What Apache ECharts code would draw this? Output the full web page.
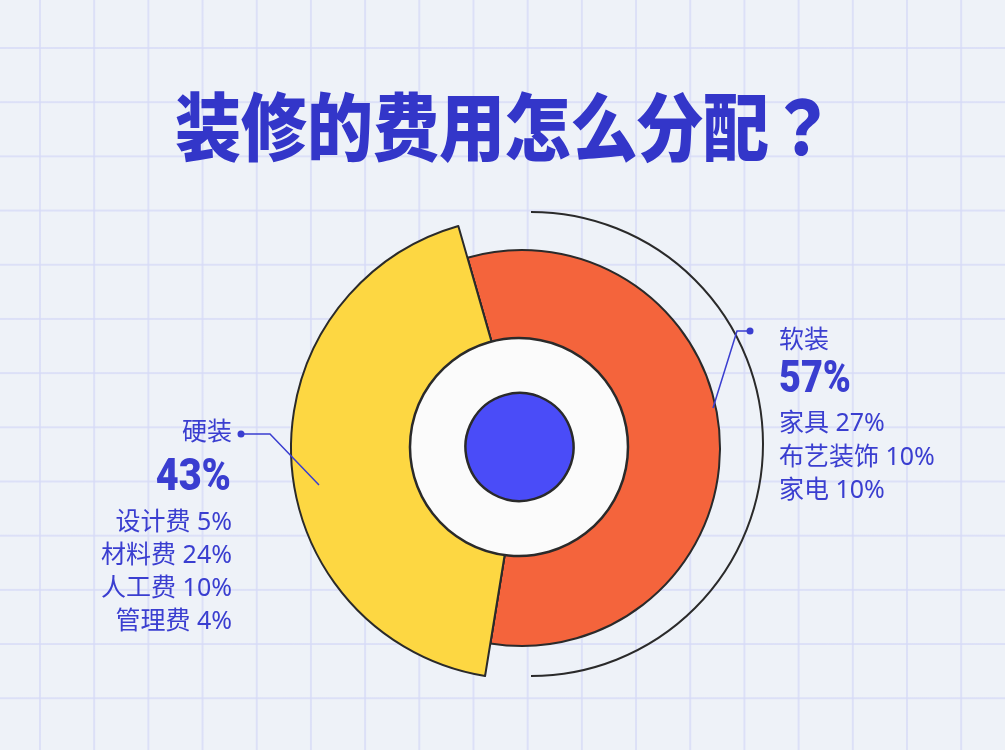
<!DOCTYPE html>
<html><head><meta charset="utf-8">
<script src="https://cdn.jsdelivr.net/npm/echarts@6/dist/echarts.min.js"></script>
<style>
html,body{margin:0;padding:0;}
#c{width:1005px;height:750px;background-color:#eef2f8;
background-image:linear-gradient(to right, rgba(214,218,247,0.75) 2px, transparent 2px), linear-gradient(to bottom, rgba(214,218,247,0.75) 2px, transparent 2px);
background-size:54.2px 54.2px;background-position:39px 47px;}
</style></head><body><div id="c"></div>
<script>
const titleText = '装修的费用怎么分配？';
const categories = ['软装', '硬装'];
const shares = [57, 43];
const softItems = ['家具', '布艺装饰', '家电'];
const softValues = [27, 10, 10];
const hardItems = ['设计费', '材料费', '人工费', '管理费'];
const hardValues = [5, 24, 10, 4];

const BLUE = '#3a3ed0';
const EDGE = '#2a2a2a';
const ORANGE = '#f4643c';
const YELLOW = '#fdd742';
const CJK = '"Noto Sans", "Noto Sans CJK SC", sans-serif';
const TITLEF = '"Noto Sans CJK JP", "Noto Sans CJK SC", sans-serif';
const NUM = 'Roboto, "DejaVu Sans", sans-serif';
const START = 106;
const CENTER = [522, 448];

const chart = echarts.init(document.getElementById('c'), null, {renderer: 'canvas'});

function txt(text, x, y, font, align, fill, extra) {
  return Object.assign({type: 'text', x: x, y: y, z: 100, silent: true,
    style: {text: text, font: font, fill: fill || BLUE, align: align, textAlign: align,
      verticalAlign: 'middle', textVerticalAlign: 'middle'}}, extra || {});
}

const baseSeries = {type: 'pie', silent: true, animation: false, clockwise: true,
  startAngle: START, center: CENTER, label: {show: false}, labelLine: {show: false},
  emphasis: {disabled: true}, avoidLabelOverlap: false};

const graphics = [];
graphics.push(txt(titleText, 505, 127, '900 66px ' + TITLEF, 'center', '#3336c9', {scaleY: 1.12}));
// right label (软装)
graphics.push(txt(categories[0], 779, 341, '25px ' + CJK, 'left'));
graphics.push(txt(shares[0] + '%', 779, 381, '900 44px ' + NUM, 'left', BLUE, {scaleX: 0.86}));
softItems.forEach((n, i) => graphics.push(txt(n + ' ' + softValues[i] + '%', 779, 424 + i * 33.5, '25px ' + CJK, 'left')));
// left label (硬装)
graphics.push(txt(categories[1], 232, 433, '25px ' + CJK, 'right'));
graphics.push(txt(shares[1] + '%', 231, 479, '900 44px ' + NUM, 'right', BLUE, {scaleX: 0.9}));
hardItems.forEach((n, i) => graphics.push(txt(n + ' ' + hardValues[i] + '%', 232, 523 + i * 33, '25px ' + CJK, 'right')));
// leader lines
graphics.push({type: 'polyline', z: 100, silent: true, shape: {points: [[750, 331], [737, 331], [713, 408]]}, style: {stroke: BLUE, lineWidth: 1.5, fill: null}});
graphics.push({type: 'circle', z: 100, silent: true, shape: {cx: 750, cy: 331, r: 3.5}, style: {fill: BLUE}});
graphics.push({type: 'polyline', z: 100, silent: true, shape: {points: [[241, 434], [270, 434], [319, 485]]}, style: {stroke: BLUE, lineWidth: 1.5, fill: null}});
graphics.push({type: 'circle', z: 100, silent: true, shape: {cx: 241, cy: 434, r: 3.5}, style: {fill: BLUE}});
// outer arc
graphics.push({type: 'arc', z: 1, silent: true, shape: {cx: 531, cy: 444, r: 232, startAngle: -Math.PI / 2, endAngle: Math.PI / 2, clockwise: true}, style: {stroke: EDGE, lineWidth: 2, fill: null}});

chart.setOption({
  animation: false,
  backgroundColor: 'transparent',
  graphic: graphics,
  series: [
    Object.assign({}, baseSeries, {
      z: 2, radius: [0, 198],
      itemStyle: {borderColor: EDGE, borderWidth: 2},
      data: [
        {name: categories[0], value: shares[0], itemStyle: {color: ORANGE}},
        {name: categories[1], value: shares[1], itemStyle: {color: YELLOW}}
      ]
    }),
    Object.assign({}, baseSeries, {
      z: 3, radius: [0, 231],
      data: [
        {name: categories[0], value: shares[0], itemStyle: {color: 'transparent', borderWidth: 0}},
        {name: categories[1], value: shares[1], itemStyle: {color: YELLOW, borderColor: EDGE, borderWidth: 2}}
      ]
    }),
    Object.assign({}, baseSeries, {
      z: 4, center: [519, 447], radius: [0, 109],
      itemStyle: {color: '#fbfbfb', borderColor: EDGE, borderWidth: 2.5},
      data: [{name: 'inner', value: 1}]
    }),
    Object.assign({}, baseSeries, {
      z: 5, center: [519.5, 447], radius: [0, 54],
      itemStyle: {color: '#4a4cf8', borderColor: EDGE, borderWidth: 2.5},
      data: [{name: 'core', value: 1}]
    })
  ]
});
</script></body></html>
